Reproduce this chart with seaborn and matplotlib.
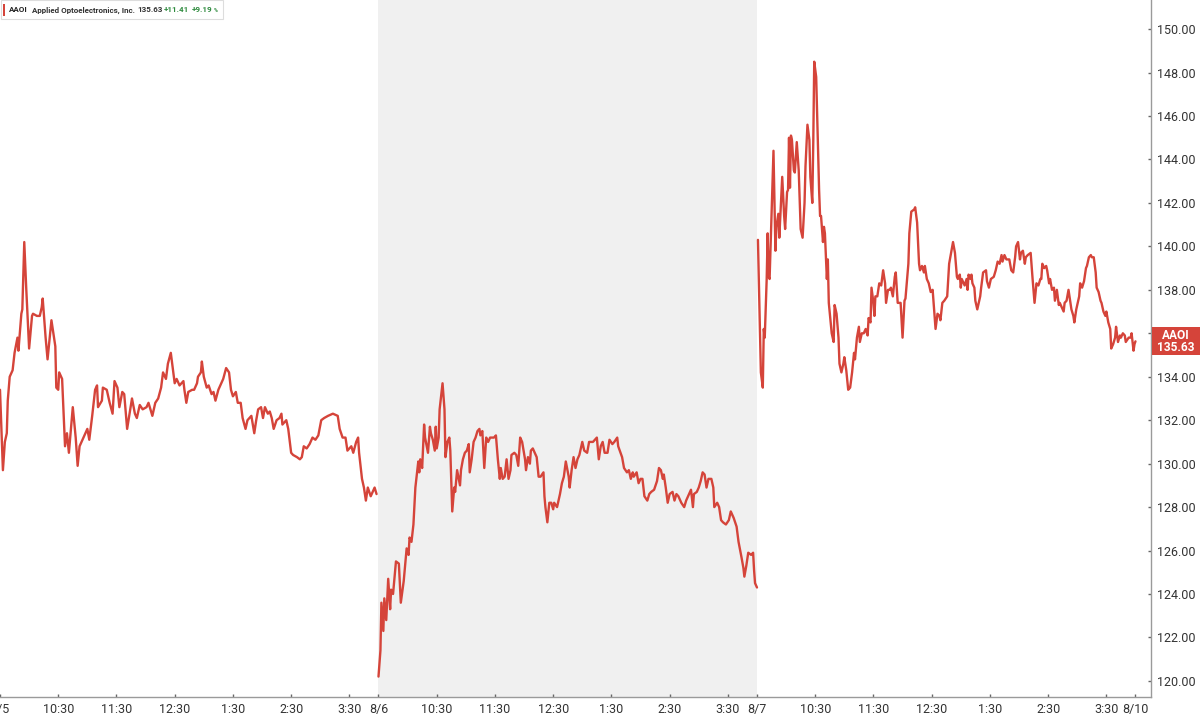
import matplotlib
matplotlib.use('Agg')
import matplotlib.pyplot as plt
import matplotlib.transforms as mtransforms
from matplotlib.patches import Rectangle
import numpy as np
import pandas as pd
import seaborn as sns

# ---------------- data ----------------
ticker = 'AAOI'
company = 'Applied Optoelectronics, Inc.'
last_price = 135.63
change = 11.41
change_pct = 9.19

days = ['8/5', '8/6', '8/7']
next_day = '8/10'
session_minutes = 390
hour_labels = ['10:30', '11:30', '12:30', '1:30', '2:30', '3:30']
y_ticks = [120, 122, 124, 126, 128, 130, 132, 134, 136, 138, 140, 142, 144, 146, 148, 150]

# minutes since 9:30 open, price
d1_t = [0, 3, 5, 7, 8, 10, 13, 15, 18, 19, 22, 23, 25, 27, 30, 33, 34, 38, 41, 43, 44, 47, 49, 53, 54,
        57, 58, 60, 61, 64, 65, 67, 69, 71, 75, 78, 80, 82, 86, 90, 92, 95, 98, 100, 101, 105, 106,
        110, 113, 116, 118, 121, 123, 126, 128, 131, 136, 139, 141, 144, 147, 151, 153, 157, 160,
        163, 166, 168, 171, 173, 176, 178, 180, 182, 185, 189, 190, 192, 194, 198, 200, 203, 204,
        207, 208, 210, 213, 215, 218, 220, 222, 225, 228, 230, 233, 236, 238, 240, 243, 245, 248,
        250, 253, 255, 259, 262, 264, 266, 269, 271, 273, 276, 278, 280, 282, 285, 288, 290, 291,
        295, 297, 300, 302, 306, 309, 311, 313, 316, 319, 322, 325, 328, 331, 334, 338, 343, 348,
        350, 353, 356, 358, 362, 364, 367, 369, 370, 373, 375, 377, 379, 382, 384, 386, 388]
d1_p = [133.4, 129.7, 131.0, 131.4, 132.9, 134.0, 134.3, 135.1, 135.8, 135.2, 136.9, 137.1, 140.2,
        138.1, 135.3, 136.8, 136.9, 136.8, 136.8, 137.2, 137.6, 135.8, 134.8, 136.6, 136.3, 135.4,
        133.5, 133.4, 134.2, 133.9, 132.9, 130.8, 131.4, 130.5, 132.6, 131.2, 129.9, 130.8, 131.2,
        131.6, 131.1, 132.2, 133.4, 133.6, 132.6, 132.9, 133.5, 133.4, 132.8, 132.3, 133.8, 133.5,
        132.6, 133.3, 133.2, 131.6, 133.0, 132.3, 132.1, 132.7, 132.5, 132.6, 132.8, 132.2, 132.8,
        133.0, 133.5, 134.2, 133.9, 134.6, 135.1, 134.4, 133.7, 133.9, 133.6, 133.8, 133.4, 132.8,
        133.3, 133.4, 133.4, 133.7, 134.0, 134.2, 134.7, 134.0, 133.5, 133.6, 133.2, 133.3, 132.9,
        133.4, 133.7, 133.9, 134.4, 134.2, 133.4, 133.1, 133.3, 132.8, 132.8, 132.1, 131.6, 132.0,
        132.2, 131.4, 132.0, 132.5, 132.6, 132.1, 132.6, 132.3, 132.4, 132.1, 131.6, 132.0, 132.1,
        132.3, 131.8, 132.0, 131.6, 130.5, 130.4, 130.3, 130.2, 130.3, 130.8, 130.7, 130.9, 131.2,
        131.1, 131.3, 132.0, 132.1, 132.2, 132.3, 132.2, 131.6, 131.2, 131.2, 130.6, 130.8, 130.5,
        131.0, 131.2, 130.5, 129.3, 128.9, 128.3, 128.9, 128.5, 128.7, 128.9, 128.6]

d2_t = [0, 2, 3, 5, 6, 8, 10, 12, 13, 15, 18, 21, 23, 26, 28, 29, 31, 32, 34, 36, 38, 39, 41, 42, 43,
        45, 47, 48, 51, 53, 54, 56, 58, 59, 60, 62, 63, 64, 66, 68, 69, 71, 73, 74, 76, 78, 79, 81,
        84, 85, 87, 89, 91, 93, 94, 96, 98, 100, 102, 104, 105, 107, 109, 111, 113, 115, 119, 121,
        123, 125, 126, 128, 130, 132, 134, 136, 137, 140, 142, 144, 146, 148, 151, 152, 154, 156,
        157, 159, 161, 163, 165, 167, 170, 171, 172, 174, 176, 178, 180, 181, 184, 187, 189, 191,
        193, 196, 197, 199, 201, 203, 205, 207, 210, 212, 215, 217, 221, 223, 225, 227, 229, 231,
        233, 236, 238, 241, 243, 246, 247, 251, 253, 256, 258, 260, 262, 263, 266, 268, 270, 272,
        274, 277, 279, 281, 284, 287, 289, 291, 293, 294, 296, 298, 300, 303, 305, 307, 309, 312,
        315, 317, 320, 322, 324, 325, 328, 330, 332, 334, 336, 338, 340, 343, 345, 346, 349, 351,
        353, 355, 358, 361, 363, 366, 369, 371, 374, 376, 377, 379, 381, 384, 386, 387, 388, 390]
d2_p = [120.2, 121.4, 123.6, 122.3, 123.8, 122.8, 124.7, 123.3, 124.2, 124.0, 125.5, 125.4, 123.6,
        124.6, 125.6, 126.1, 125.8, 126.6, 126.4, 127.2, 128.9, 129.3, 130.1, 129.6, 130.2, 129.8,
        131.8, 131.2, 130.5, 131.7, 131.4, 131.1, 130.6, 131.7, 130.7, 131.2, 132.5, 132.9, 133.7,
        132.5, 130.3, 131.0, 131.2, 130.6, 127.8, 128.9, 128.7, 129.7, 129.0, 129.7, 130.2, 130.5,
        130.6, 130.9, 129.6, 130.2, 131.0, 131.2, 131.5, 131.6, 131.3, 131.5, 129.8, 131.2, 131.0,
        131.2, 131.2, 131.3, 130.2, 129.3, 129.8, 129.3, 129.4, 130.2, 129.3, 129.7, 130.4, 130.5,
        130.4, 129.9, 131.2, 131.0, 130.2, 129.7, 130.3, 130.0, 130.6, 130.7, 130.5, 130.3, 129.4,
        129.4, 129.6, 128.5, 128.0, 127.3, 128.2, 128.2, 127.9, 128.2, 128.0, 128.6, 129.1, 129.4,
        130.1, 129.4, 128.9, 129.7, 130.3, 129.8, 130.2, 130.4, 131.0, 130.6, 130.5, 131.0, 131.0,
        131.1, 131.2, 130.2, 130.8, 131.0, 130.5, 130.5, 131.1, 130.9, 131.0, 131.2, 130.8, 130.3,
        129.8, 129.6, 129.7, 129.3, 129.6, 129.4, 129.6, 129.1, 129.3, 129.3, 128.5, 128.3, 128.6,
        128.7, 128.8, 129.2, 129.8, 129.7, 129.3, 129.5, 128.9, 128.2, 128.6, 128.7, 128.3, 128.6,
        128.5, 128.2, 128.0, 128.3, 128.6, 128.8, 128.0, 128.6, 128.7, 128.9, 129.2, 129.6, 129.5,
        128.9, 129.3, 129.3, 128.9, 128.0, 128.2, 128.0, 127.4, 127.3, 127.2, 127.4, 127.8, 127.5,
        127.1, 126.4, 125.7, 125.2, 124.8, 125.3, 125.9, 125.8, 125.9, 125.1, 124.5, 124.3]

d3_t = [1, 4, 6, 7, 8, 10, 11, 12, 13, 15, 17, 19, 20, 22, 23, 26, 28, 29, 31, 32, 33, 34, 35, 36,
        38, 39, 41, 43, 45, 47, 49, 50, 52, 54, 55, 57, 58, 59, 61, 63, 64, 65, 66, 68, 69, 70, 72,
        73, 74, 77, 79, 80, 82, 84, 85, 87, 89, 90, 92, 94, 96, 98, 100, 101, 103, 105, 106, 108,
        110, 112, 114, 115, 117, 118, 120, 121, 122, 124, 126, 128, 130, 132, 133, 135, 137, 138,
        140, 142, 143, 145, 147, 148, 150, 152, 153, 156, 157, 159, 162, 163, 165, 167, 168, 170,
        172, 173, 175, 177, 179, 181, 183, 184, 186, 188, 189, 191, 193, 196, 198, 200, 202, 204,
        206, 207, 209, 210, 211, 214, 216, 217, 218, 220, 221, 222, 224, 225, 227, 230, 231, 233,
        236, 237, 239, 241, 244, 246, 248, 250, 252, 253, 255, 257, 260, 262, 264, 266, 267, 269,
        271, 272, 274, 276, 277, 279, 282, 284, 286, 288, 290, 292, 293, 294, 296, 298, 299, 301,
        302, 304, 306, 307, 309, 311, 312, 314, 316, 317, 319, 321, 322, 324, 326, 327, 329, 332,
        333, 335, 337, 339, 340, 342, 344, 345, 347, 349, 350, 352, 354, 355, 357, 359, 360, 362,
        364, 365, 367, 369, 370, 372, 374, 375, 377, 379, 380, 383, 385, 386, 388, 389, 390]
d3_p = [140.3, 134.2, 133.5, 136.2, 135.8, 138.5, 140.6, 138.6, 138.5, 141.4, 144.4, 139.8, 140.9,
        141.5, 140.4, 143.2, 141.4, 140.8, 142.5, 142.6, 145.0, 142.7, 145.1, 144.9, 143.5, 143.4,
        144.8, 143.5, 140.8, 140.4, 142.0, 143.7, 145.6, 144.9, 143.2, 142.0, 144.8, 148.5, 147.8,
        144.4, 142.6, 141.4, 141.4, 140.2, 140.9, 140.6, 138.5, 139.4, 137.4, 136.0, 135.6, 137.3,
        136.9, 135.8, 134.6, 134.2, 134.6, 134.9, 134.3, 133.4, 133.5, 134.2, 135.1, 134.8, 135.8,
        136.3, 135.6, 136.0, 136.0, 136.2, 135.9, 136.7, 136.5, 138.1, 137.4, 136.8, 137.7, 137.7,
        138.3, 138.2, 138.9, 138.3, 137.4, 138.0, 138.0, 138.1, 137.7, 138.6, 138.8, 137.4, 137.4,
        137.4, 135.8, 137.5, 137.6, 139.2, 140.6, 141.6, 141.7, 141.8, 141.1, 139.2, 138.9, 139.1,
        138.8, 139.1, 138.5, 138.3, 137.9, 138.0, 136.8, 136.2, 136.9, 136.8, 136.6, 137.4, 137.5,
        137.7, 139.2, 139.7, 140.2, 139.7, 138.6, 138.5, 138.7, 138.1, 138.5, 138.2, 138.5, 138.0,
        138.7, 138.5, 138.7, 138.3, 138.1, 137.5, 137.1, 137.7, 138.1, 138.8, 138.9, 138.4, 138.1,
        138.5, 138.6, 138.9, 139.3, 139.2, 139.6, 139.3, 139.6, 139.4, 139.4, 138.9, 138.8, 139.5,
        140.0, 140.2, 139.4, 139.7, 139.8, 139.2, 139.5, 139.6, 139.7, 138.5, 137.4, 138.3, 138.2,
        138.5, 138.5, 139.2, 139.0, 139.1, 138.9, 138.3, 138.5, 138.0, 138.1, 137.5, 138.0, 137.3,
        137.4, 137.2, 137.0, 137.4, 137.5, 138.0, 137.7, 137.1, 136.8, 136.5, 137.1, 137.7, 138.3,
        138.1, 138.4, 139.0, 139.1, 139.5, 139.6, 139.5, 139.5, 138.8, 138.1, 137.9, 137.5, 137.4,
        137.0, 136.8, 137.0, 136.5, 136.2, 135.3, 135.5, 135.8, 136.3, 135.6, 135.9, 135.8, 136.0,
        135.9, 135.6, 135.8, 135.8, 136.0, 135.2, 135.5, 135.63]

# ---------------- frame ----------------
frames = []
for i, (t, p) in enumerate([(d1_t, d1_p), (d2_t, d2_p), (d3_t, d3_p)]):
    frames.append(pd.DataFrame({'day': days[i],
                                'x': np.array(t) + i * session_minutes,
                                'price': p}))
df = pd.concat(frames, ignore_index=True)

# ---------------- style ----------------
sns.set_theme(style='white')
plt.rcParams['font.family'] = ['Roboto', 'DejaVu Sans']

RED = '#d5443a'
AXIS = '#9a9a9a'
TXT = '#333333'
W, H = 1200, 714

fig = plt.figure(figsize=(12, 7.14), dpi=100)
fig.patch.set_facecolor('white')
ax = fig.add_axes([0, 17 / H, 1151 / W, 697 / H])
ax.set_facecolor('white')

ax.axvspan(session_minutes, 2 * session_minutes, color='#f0f0f0', lw=0, zorder=0)

sns.lineplot(data=df, x='x', y='price', units='day', estimator=None,
             color=RED, linewidth=1.7, ax=ax, legend=False, zorder=3)

ax.set_xlim(2, 1186)
ax.set_ylim(119.26, 151.34)

# spines
for s in ['top', 'left']:
    ax.spines[s].set_visible(False)
for s in ['right', 'bottom']:
    ax.spines[s].set_visible(True)
    ax.spines[s].set_color(AXIS)
    ax.spines[s].set_linewidth(1.0)

# price tag geometry (pixels -> data)
px_per_unit = 697 / (151.34 - 119.26)
half_h = 14 / px_per_unit

# y axis on the right; the label hidden behind the last-price tag is left blank
ax.yaxis.tick_right()
ax.set_yticks(y_ticks)
ax.set_yticklabels(['' if abs(v - last_price) < half_h + 0.5 else f'{v:.2f}' for v in y_ticks])
ax.tick_params(axis='y', direction='in', length=2.5, width=1, color='#666666',
               labelsize=9, labelcolor=TXT, pad=4, right=True, left=False)

# x axis ticks
xt, xl = [], []
all_days = days + [next_day]
for i in range(len(days) + 1):
    xt.append(i * session_minutes)
    xl.append(all_days[i])
    if i < len(days):
        for k, lab in enumerate(hour_labels):
            xt.append(i * session_minutes + 60 * (k + 1))
            xl.append(lab)
ax.set_xticks(xt)
ax.set_xticklabels(xl)
ax.tick_params(axis='x', direction='in', length=2.5, width=1, color='#666666',
               labelsize=9, labelcolor=TXT, pad=4, bottom=True)
ax.set_xlabel('')
ax.set_ylabel('')
ax.grid(False)

# ---------------- right last-price tag ----------------
blend = mtransforms.blended_transform_factory(ax.transAxes, ax.transData)
x0 = 1152 / 1151
x1 = 1200 / 1151
ax.add_patch(Rectangle((x0, last_price - half_h), x1 - x0, 2 * half_h,
                       transform=blend, facecolor=RED, edgecolor='none',
                       clip_on=False, zorder=5))
xc = (x0 + x1) / 2
ax.text(xc, last_price, f'{ticker}\n{last_price:.2f}', transform=blend, ha='center',
        va='center', multialignment='center', linespacing=0.95,
        color='white', fontsize=8.6, fontweight='bold', clip_on=False, zorder=6)

# ---------------- top-left legend box ----------------
def fx(px):
    return px / W

def fy(py):
    return 1 - py / H

fig.patches.append(Rectangle((fx(0.5), fy(18.5)), fx(222.5), 18 / H, transform=fig.transFigure,
                             facecolor='white', edgecolor='#dddddd', linewidth=0.8, zorder=10))
fig.patches.append(Rectangle((fx(3), fy(16)), fx(2), 12 / H, transform=fig.transFigure,
                             facecolor=RED, edgecolor='none', zorder=11))
yc = fy(10)
fs = 5.8
fig.text(fx(9), yc, ticker, fontsize=fs, fontweight='bold', color='#222222', va='center', zorder=12)
fig.text(fx(32), yc, company, fontsize=fs, fontweight='bold', color='#333333', va='center', zorder=12)
fig.text(fx(137), yc, f'{last_price:.2f}', fontsize=fs, fontweight='bold', color='#333333',
         va='center', zorder=12)
fig.text(fx(164), yc, f'+{change:.2f}', fontsize=fs, fontweight='bold', color='#2e8b3e',
         va='center', zorder=12)
fig.text(fx(192), yc, f'+{change_pct:.2f}', fontsize=fs, fontweight='bold', color='#2e8b3e',
         va='center', zorder=12)
fig.text(fx(213.5), fy(11), '%', fontsize=3.8, fontweight='bold', color='#2e8b3e',
         va='center', zorder=12)

fig.savefig('out.png', dpi=100, facecolor='white')
